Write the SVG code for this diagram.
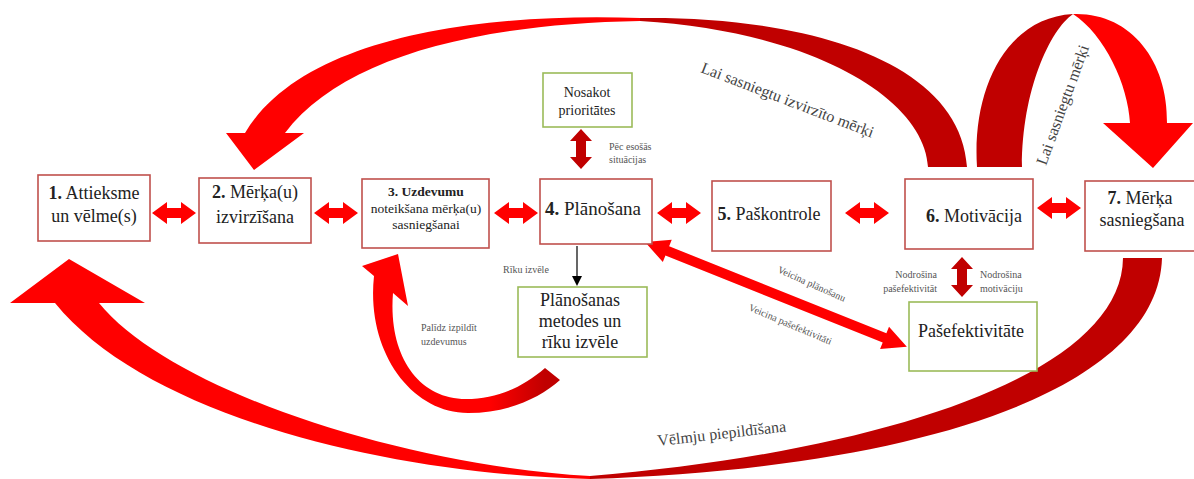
<svg xmlns="http://www.w3.org/2000/svg" width="1194" height="479" viewBox="0 0 1194 479">
<defs>
<style>
.box{fill:#fff;stroke:#c0504d;stroke-width:1.6}
.gbox{fill:#fff;stroke:#9bbb59;stroke-width:1.6}
text{font-family:'Liberation Serif','DejaVu Serif','Times New Roman',serif}
.t{fill:#222}
.lb{fill:#555;font-size:10px}
.big{fill:#444;font-size:16px}
.red{fill:#ff0000}
.dark{fill:#c00000}
</style>
<linearGradient id="sg" gradientUnits="userSpaceOnUse" x1="490" y1="0" x2="545" y2="0">
<stop offset="0" stop-color="#ff0000"/><stop offset="1" stop-color="#c00000"/>
</linearGradient>
<marker id="ah" markerWidth="10" markerHeight="10" refX="8" refY="5" orient="auto" markerUnits="userSpaceOnUse">
<path d="M0,0 L10,5 L0,10 Z" fill="#000"/>
</marker>
<polygon id="hdbl" points="0,0 15,-11 15,-5 29,-5 29,-11 44,0 29,11 29,5 15,5 15,11"/>
<polygon id="vdbl" points="0,0 11,12 5,12 5,28 11,28 0,40 -11,28 -5,28 -5,12 -11,12"/>
</defs>

<g id="connectors">
<path class="dark" d="M640,18 C800,16 960,58 967,167 L928,167 C925,102 820,32 640,21 Z"/>
<path class="red" d="M640,18 C470,12 300,40 245,133 L226,133 L254,170 L304,133 L285,133 C340,60 470,24 640,21 Z"/>
<path class="dark" d="M977,167 C972,90 1005,18 1073,14 C1050,30 1022,90 1022,167 Z"/>
<path class="red" d="M1073,14 C1130,12 1168,60 1167,123 L1193,123 L1153,168 L1103,123 L1130,123 C1128,85 1105,35 1073,14 Z"/>
<path class="dark" d="M1162,258 C1158,390 920,468 590,479 L590,476 C880,452 1122,375 1123,258 Z"/>
<path class="red" d="M590,479 C400,475 150,420 55,303 L10,303 L69,259 L145,303 L99,303 C170,390 400,465 590,476 Z"/>
<path fill="url(#sg)" d="M374,276 C366,350 410,413 468,413 C508,413 540,398 560,380 L545,368 C522,388 496,399 466,399 C418,399 388,355 393,293 L408,306 L398,254 L362,266 Z"/>
<use href="#hdbl" class="red" transform="translate(152,213)"/>
<use href="#hdbl" class="red" transform="translate(314,213)"/>
<use href="#hdbl" class="red" transform="translate(494,213)"/>
<use href="#hdbl" class="red" transform="translate(657,213)"/>
<use href="#hdbl" class="red" transform="translate(845,213)"/>
<use href="#hdbl" class="red" transform="translate(1037,208)"/>
<use href="#vdbl" class="dark" transform="translate(581,129)"/>
<use href="#vdbl" class="dark" transform="translate(962,257)"/>
<polygon class="red" transform="translate(645,242) rotate(21.8)" points="0,0 24,-12 24,-5 258,-5 258,-12 282,0 258,12 258,5 24,5 24,12"/>
<line x1="577" y1="246" x2="577" y2="284" stroke="#000" stroke-width="1.2" marker-end="url(#ah)"/>
</g>

<g id="labels">
<text class="big" transform="translate(700,72) rotate(21)">Lai sasniegtu izvirzīto mērķi</text>
<text class="big" transform="translate(1046,166) rotate(-70)">Lai sasniegtu mērķi</text>
<text class="big" transform="translate(658,446) rotate(-6.5)">Vēlmju piepildīšana</text>
<text class="lb" x="609" y="150">Pēc esošās</text>
<text class="lb" x="609" y="163">situācijas</text>
<text class="lb" x="503" y="273">Rīku izvēle</text>
<text class="lb" x="421" y="331">Palīdz izpildīt</text>
<text class="lb" x="421" y="345">uzdevumus</text>
<text class="lb" x="937" y="278" text-anchor="end">Nodrošina</text>
<text class="lb" x="937" y="292" text-anchor="end">pašefektivitāt</text>
<text class="lb" x="980" y="278">Nodrošina</text>
<text class="lb" x="980" y="292">motivāciju</text>
<text class="lb" transform="translate(777,272) rotate(24)">Veicina plānošanu</text>
<text class="lb" transform="translate(748,310) rotate(23)">Veicina pašefektivitāti</text>
</g>

<g id="n1">
<rect class="box" x="38" y="175" width="112" height="66"/>
<text class="t" font-size="18" x="94" y="199" text-anchor="middle"><tspan font-weight="bold">1.</tspan> Attieksme</text>
<text class="t" font-size="18" x="94" y="222" text-anchor="middle">un vēlme(s)</text>
</g>
<g id="n2">
<rect class="box" x="199" y="178" width="112" height="65"/>
<text class="t" font-size="18" x="255" y="198" text-anchor="middle"><tspan font-weight="bold">2.</tspan> Mērķa(u)</text>
<text class="t" font-size="18" x="255" y="223" text-anchor="middle">izvirzīšana</text>
</g>
<g id="n3">
<rect class="box" x="362" y="179" width="127" height="69"/>
<text class="t" font-size="13.5" x="426" y="196" text-anchor="middle" font-weight="bold">3. Uzdevumu</text>
<text class="t" font-size="13.5" x="426" y="213" text-anchor="middle">noteikšana mērķa(u)</text>
<text class="t" font-size="13.5" x="426" y="229" text-anchor="middle">sasniegšanai</text>
</g>
<g id="n4">
<rect class="box" x="540" y="179" width="112" height="65"/>
<text class="t" font-size="19" x="593" y="215" text-anchor="middle"><tspan font-weight="bold">4.</tspan> Plānošana</text>
</g>
<g id="n5">
<rect class="box" x="712" y="181" width="119" height="70"/>
<text class="t" font-size="18" x="769" y="220" text-anchor="middle"><tspan font-weight="bold">5.</tspan> Paškontrole</text>
</g>
<g id="n6">
<rect class="box" x="905" y="179" width="128" height="70"/>
<text class="t" font-size="18" x="974" y="222" text-anchor="middle"><tspan font-weight="bold">6.</tspan> Motivācija</text>
</g>
<g id="n7">
<rect class="box" x="1085" y="181" width="120" height="70"/>
<text class="t" font-size="18" x="1140" y="204" text-anchor="middle"><tspan font-weight="bold">7.</tspan> Mērķa</text>
<text class="t" font-size="18" x="1142" y="226" text-anchor="middle">sasniegšana</text>
</g>
<g id="nPrior">
<rect class="gbox" x="543" y="73" width="89" height="54"/>
<text class="t" font-size="14" x="587" y="97" text-anchor="middle">Nosakot</text>
<text class="t" font-size="14" x="587" y="115" text-anchor="middle">prioritātes</text>
</g>
<g id="nMetodes">
<rect class="gbox" x="518" y="287" width="129" height="70"/>
<text class="t" font-size="18" x="580" y="306" text-anchor="middle">Plānošanas</text>
<text class="t" font-size="18" x="580" y="327" text-anchor="middle">metodes un</text>
<text class="t" font-size="18" x="580" y="348" text-anchor="middle">rīku izvēle</text>
</g>
<g id="nPasef">
<rect class="gbox" x="909" y="302" width="128" height="69"/>
<text class="t" font-size="18" x="918" y="337">Pašefektivitāte</text>
</g>
</svg>
